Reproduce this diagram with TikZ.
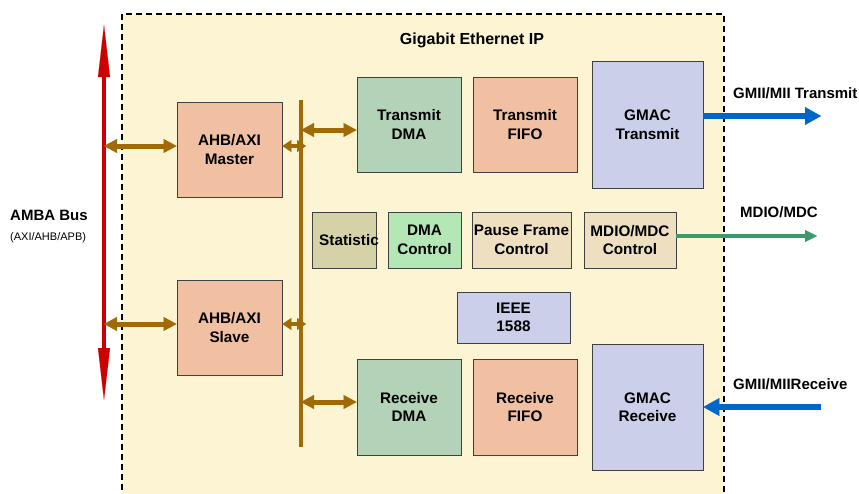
\documentclass[tikz,border=0pt]{standalone}
\usepackage{fontspec}
\setmainfont{Liberation Sans}
\usetikzlibrary{arrows.meta}
\definecolor{ipbg}{HTML}{FDF4D4}
\definecolor{salmon}{HTML}{F1BFA1}
\definecolor{dmagreen}{HTML}{B3D3B8}
\definecolor{lav}{HTML}{CBCFEA}
\definecolor{olive}{HTML}{D6D2A8}
\definecolor{ltgreen}{HTML}{B3E7B5}
\definecolor{beige}{HTML}{EDDFBF}
\definecolor{busbrown}{HTML}{A06A06}
\definecolor{busred}{HTML}{CC0000}
\definecolor{gblue}{HTML}{0066CC}
\definecolor{mgreen}{HTML}{3A9A6A}
\tikzset{
  blk/.style={draw=black!75, line width=0.8pt, align=center, inner sep=0pt,
    font=\fontsize{15.3}{18.5}\selectfont\bfseries},
  brn/.style={draw=busbrown, line width=5pt,
    {Triangle[width=14pt,length=13pt,line width=0.1pt]}-{Triangle[width=14pt,length=13pt,line width=0.1pt]}},
  brnsmall/.style={draw=busbrown, line width=4pt,
    {Triangle[width=12pt,length=9pt,line width=0.1pt]}-{Triangle[width=12pt,length=9pt,line width=0.1pt]}},
  lbl/.style={font=\fontsize{15}{18}\selectfont\bfseries, inner sep=0pt, anchor=west}
}
\begin{document}
\begin{tikzpicture}[x=1pt,y=-1pt]
\useasboundingbox (0,0) rectangle (859,493);
% IP region
\fill[ipbg] (122,14) rectangle (724,500);
\draw[black, line width=2pt, dash pattern=on 6pt off 4pt] (122,500) -- (122,14) -- (724,14) -- (724,500);
\node[font=\fontsize{16}{19}\selectfont\bfseries] (title) at (472,40) {Gigabit Ethernet IP};

% blocks
\node[blk, fill=salmon, minimum width=105pt, minimum height=95pt] (master) at (229.5,149.5) {AHB/AXI\\Master};
\node[blk, fill=salmon, minimum width=105pt, minimum height=95pt] (slave) at (229.5,327.5) {AHB/AXI\\Slave};
\node[blk, fill=dmagreen, minimum width=104pt, minimum height=95pt] (txdma) at (409,124.5) {Transmit\\DMA};
\node[blk, fill=salmon, minimum width=104pt, minimum height=95pt] (txfifo) at (525,124.5) {Transmit\\FIFO};
\node[blk, fill=lav, minimum width=111pt, minimum height=127pt] (gmactx) at (647.5,124.5) {GMAC\\Transmit};
\node[blk, fill=olive, minimum width=64pt, minimum height=56pt] (stat) at (344,240) {\makebox[0pt]{\hspace{10pt}Statistic}};
\node[blk, fill=ltgreen, minimum width=73pt, minimum height=56pt] (dmactl) at (424.5,240) {DMA\\Control};
\node[blk, fill=beige, minimum width=99pt, minimum height=56pt] (pause) at (521.5,240) {Pause Frame\\Control};
\node[blk, fill=beige, minimum width=92pt, minimum height=56pt] (mdioctl) at (630,240) {MDIO/MDC\\Control};
\node[blk, fill=lav, minimum width=113pt, minimum height=51pt] (ieee) at (513.5,317.5) {IEEE\\1588};
\node[blk, fill=dmagreen, minimum width=104pt, minimum height=96pt] (rxdma) at (409,407) {Receive\\DMA};
\node[blk, fill=salmon, minimum width=104pt, minimum height=96pt] (rxfifo) at (525,407) {Receive\\FIFO};
\node[blk, fill=lav, minimum width=111pt, minimum height=126pt] (gmacrx) at (647.5,407) {GMAC\\Receive};

% AMBA bus
\coordinate (ambatop) at (104,25);
\coordinate (ambabot) at (104,400);
\draw[busred, line width=4pt, {Triangle[width=12pt,length=52pt,line width=0.1pt]}-{Triangle[width=12pt,length=52pt,line width=0.1pt]}] (ambatop) -- (ambabot);
\node[font=\fontsize{15}{18}\selectfont\bfseries, anchor=west, inner sep=0pt] (amba) at (10,215) {AMBA Bus};
\node[font=\fontsize{11}{13}\selectfont, anchor=west, inner sep=0pt] (ambasub) at (10,238) {(AXI/AHB/APB)};

% internal bus
\coordinate (ibtop) at (301,100);
\coordinate (ibbot) at (301,447);
\draw[busbrown, line width=4pt] (ibtop) -- (ibbot);

\coordinate (am) at (104,146);
\coordinate (as) at (104,324);
\coordinate (bm) at (306,146);
\coordinate (bs) at (306,324);
\coordinate (btx) at (301,130);
\coordinate (brx) at (301,402);
\draw[brn] (am) -- (am -| master.west);
\draw[brn] (as) -- (as -| slave.west);
\draw[brnsmall] (bm -| master.east) -- (bm);
\draw[brnsmall] (bs -| slave.east) -- (bs);
\draw[brn] (btx) -- (btx -| txdma.west);
\draw[brn] (brx) -- (brx -| rxdma.west);

% external interfaces
\coordinate (txo) at (821,116);
\coordinate (rxi) at (821,407);
\coordinate (mdo) at (817,236);
\draw[gblue, line width=6.5pt, -{Triangle[width=18pt,length=16pt,line width=0.1pt]}] (txo -| gmactx.east) -- (txo);
\draw[gblue, line width=6.5pt, -{Triangle[width=18pt,length=16pt,line width=0.1pt]}] (rxi) -- (rxi -| gmacrx.east);
\draw[mgreen, line width=4pt, -{Triangle[width=12pt,length=12pt,line width=0.1pt]}] (mdo -| mdioctl.east) -- (mdo);
\node[lbl] (txlbl) at (733,93) {GMII/MII Transmit};
\node[lbl] (mdlbl) at (740,212) {MDIO/MDC};
\node[lbl] (rxlbl) at (733,384) {GMII/MIIReceive};
\end{tikzpicture}
\end{document}
